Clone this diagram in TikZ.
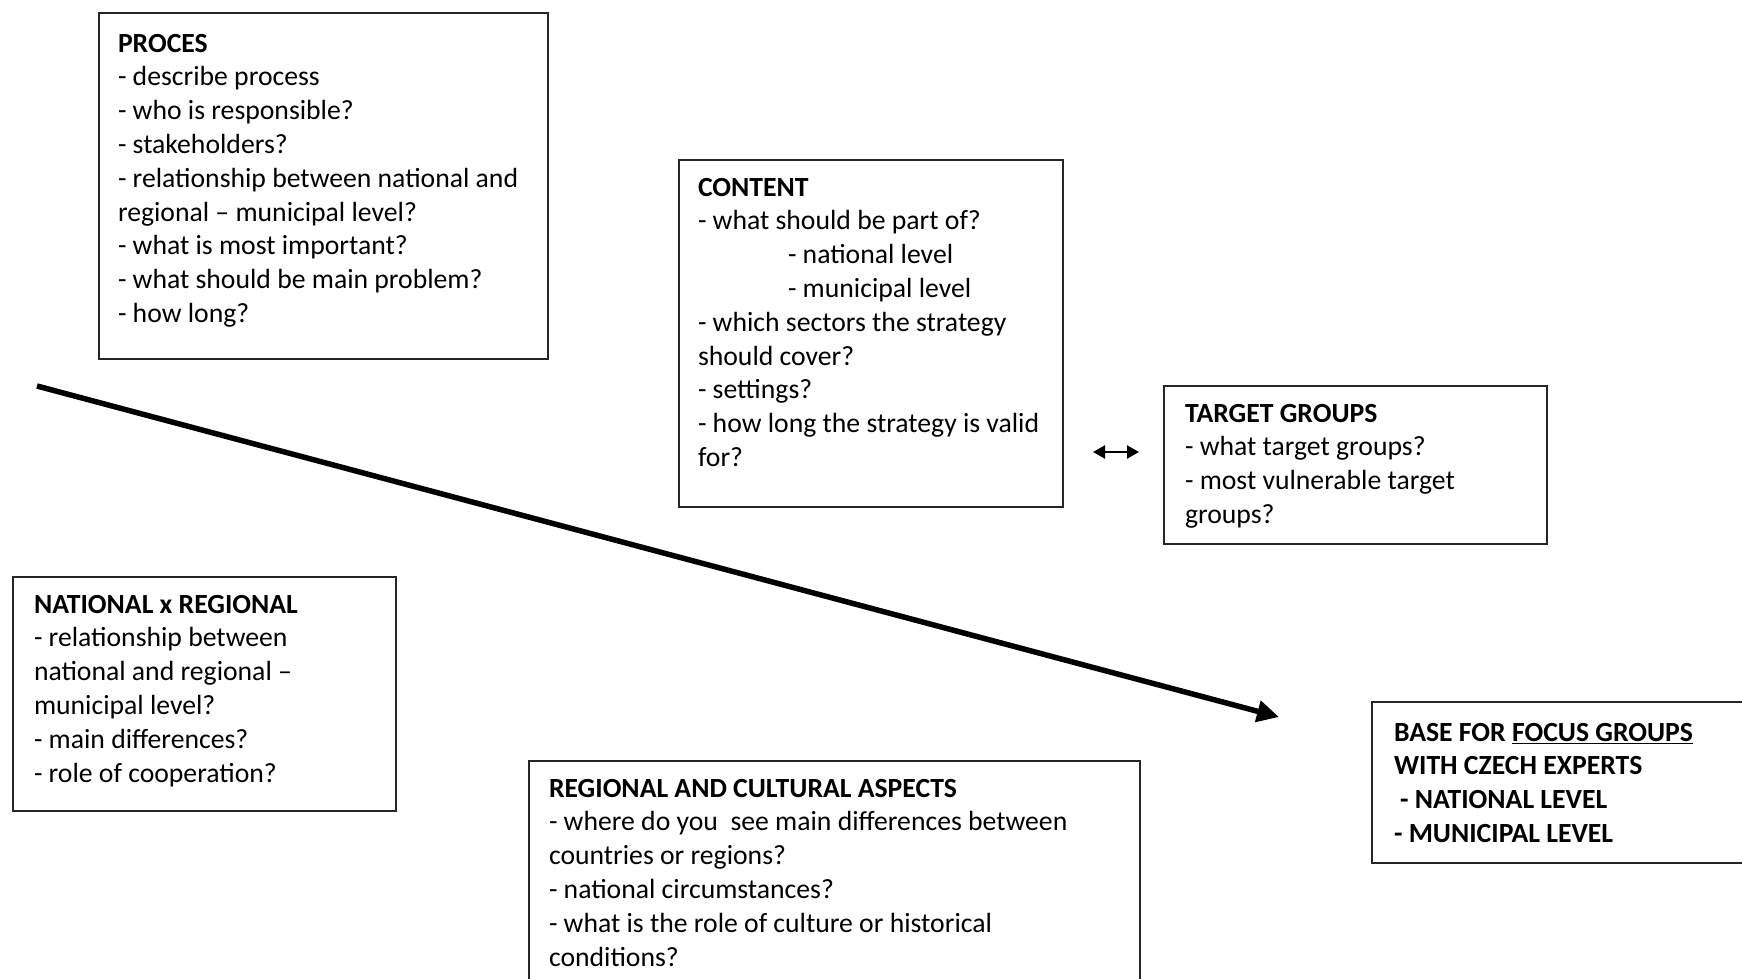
\documentclass[tikz,border=0pt]{standalone}
\usepackage{fontspec}
\setmainfont{Carlito}
\usetikzlibrary{arrows.meta}
\tikzset{
  boxframe/.style={draw=black!85, line width=2pt, inner sep=0pt, outer sep=0pt, anchor=north west},
  boxtext/.style={anchor=north west, inner sep=0pt, outer sep=0pt, align=left,
    font=\fontsize{27.7}{33.8}\selectfont},
  mainarrow/.style={line width=5.5pt, -{Triangle[length=22pt,width=21pt]}},
  duoarrow/.style={line width=2.2pt, {Triangle[length=12pt,width=13pt]}-{Triangle[length=12pt,width=13pt]}}
}
\begin{document}
\begin{tikzpicture}[x=1pt,y=-1pt]
\useasboundingbox (0,0) rectangle (1742,978);
\clip (0,0) rectangle (1742,978);

% frames
\node[boxframe, minimum width=449pt, minimum height=346pt] (proces) at (99,13) {};
\node[boxframe, minimum width=384pt, minimum height=347pt] (content) at (679,160) {};
\node[boxframe, minimum width=383pt, minimum height=158pt] (target) at (1164,386) {};
\node[boxframe, minimum width=383pt, minimum height=234pt] (natreg) at (13,577) {};
\node[boxframe, minimum width=611pt, minimum height=250pt] (regcult) at (529,761) {};
\node[boxframe, minimum width=420pt, minimum height=161pt] (base) at (1372,702) {};

% texts
\node[boxtext] (procestxt) at (118,34) {\textbf{PROCES}\\
- describe process\\
- who is responsible?\\
- stakeholders?\\
- relationship between national and\\
regional -- municipal level?\\
- what is most important?\\
- what should be main problem?\\
- how long?};

\node[boxtext] (contenttxt) at (698,178) {\textbf{CONTENT}\\
- what should be part of?\\
\hspace*{90pt}- national level\\
\hspace*{90pt}- municipal level\\
- which sectors the strategy\\
should cover?\\
- settings?\\
- how long the strategy is valid\\
for?};

\node[boxtext] (targettxt) at (1185,404) {\textbf{TARGET GROUPS}\\
- what target groups?\\
- most vulnerable target\\
groups?};

\node[boxtext] (natregtxt) at (34,595) {\textbf{NATIONAL x REGIONAL}\\
- relationship between\\
national and regional --\\
municipal level?\\
- main differences?\\
- role of cooperation?};

\node[boxtext] (regculttxt) at (549,779) {\textbf{REGIONAL AND CULTURAL ASPECTS}\\
- where do you\ \ see main differences between\\
countries or regions?\\
- national circumstances?\\
- what is the role of culture or historical\\
conditions?};

\node[boxtext] (basetxt) at (1394,723) {\textbf{BASE FOR \underline{FOCUS GROUPS}}\\
\textbf{WITH CZECH EXPERTS}\\
\hspace*{6pt}\textbf{- NATIONAL LEVEL}\\
\textbf{- MUNICIPAL LEVEL}};

% connectors
\coordinate (arrowstart) at (37,386);
\coordinate (arrowend) at (1279,717);
\draw[mainarrow] (arrowstart) -- (arrowend);

\coordinate (duoleft) at (1093,452);
\coordinate (duoright) at (1139,452);
\draw[duoarrow] (duoleft) -- (duoright);
\end{tikzpicture}
\end{document}
